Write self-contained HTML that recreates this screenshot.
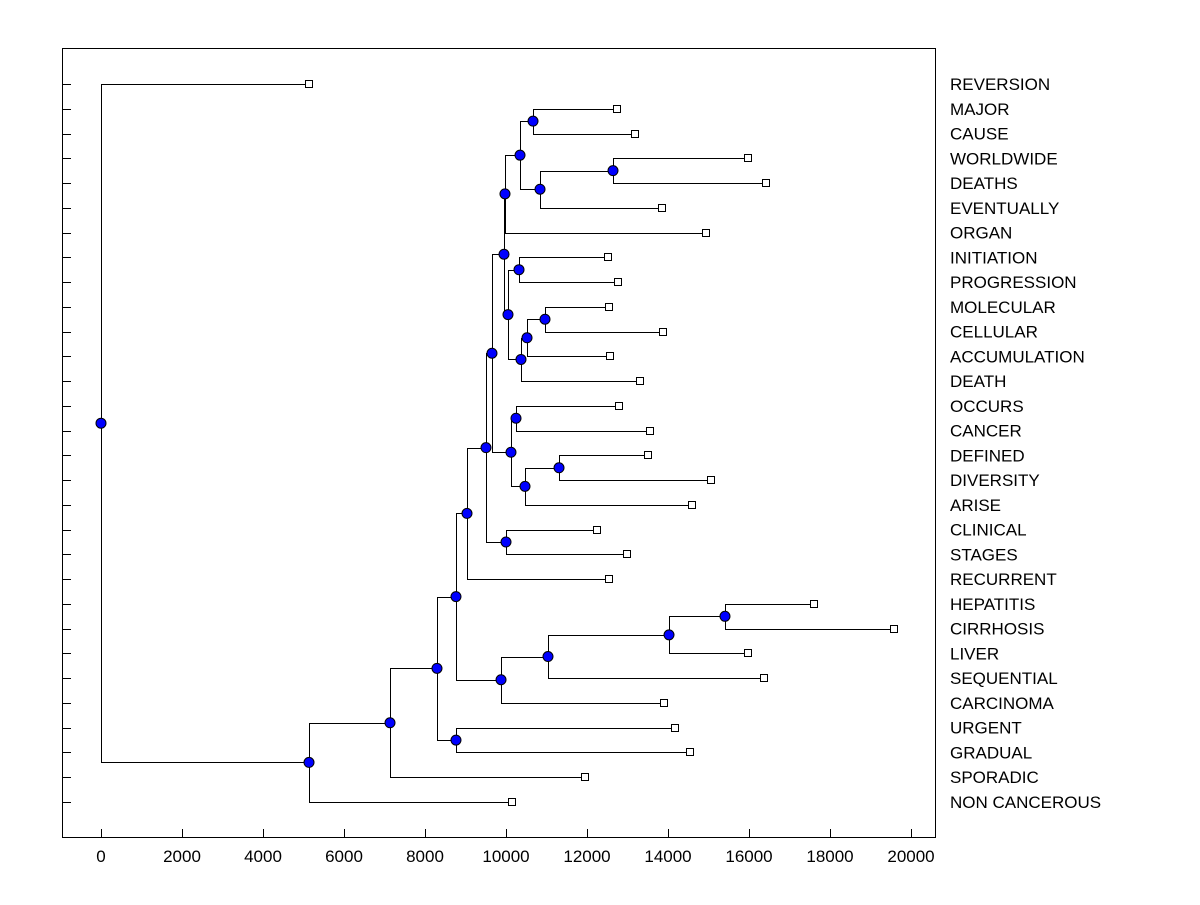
<!DOCTYPE html>
<html><head><meta charset="utf-8"><style>
body{margin:0;background:#fff}
svg text{font-family:"Liberation Sans",Arial,sans-serif;font-size:17px;fill:#000}
</style></head><body>
<svg id="chart" width="1200" height="900" xmlns="http://www.w3.org/2000/svg">
<rect x="62.5" y="48.5" width="873" height="789" fill="none" stroke="#000" stroke-width="1"/>
<g id="g"></g>
</svg>
<script>
const labels=["REVERSION","MAJOR","CAUSE","WORLDWIDE","DEATHS","EVENTUALLY","ORGAN","INITIATION","PROGRESSION","MOLECULAR","CELLULAR","ACCUMULATION","DEATH","OCCURS","CANCER","DEFINED","DIVERSITY","ARISE","CLINICAL","STAGES","RECURRENT","HEPATITIS","CIRRHOSIS","LIVER","SEQUENTIAL","CARCINOMA","URGENT","GRADUAL","SPORADIC","NON CANCEROUS"];
const leafValues=[5136,12741,13185,15975,16420,13852,14938,12519,12765,12543,13877,12568,13309,12790,13556,13506,15062,14593,12247,12988,12543,17605,19580,15975,16370,13901,14173,14543,11951,10148];
const mergeLeft=[1,3,31,30,33,7,9,36,37,35,34,13,15,42,41,40,18,45,47,21,49,50,51,48,26,53,55,56,0];
const mergeRight=[2,4,5,32,6,8,10,11,12,38,39,14,16,17,43,44,19,46,20,22,23,24,25,52,27,54,28,29,57];
const mergeHeights=[10667,12642,10840,10346,9975,10321,10963,10519,10370,10049,9951,10247,11309,10469,10123,9654,10000,9506,9037,15407,14025,11037,9877,8765,8765,8296,7136,5136,0];
const xTicks=[0,2000,4000,6000,8000,10000,12000,14000,16000,18000,20000];

const NS="http://www.w3.org/2000/svg";
const g=document.getElementById('g');
const xS=v=>101+v*0.0405;
const yS=i=>84+i*(802-84)/(labels.length-1);
const px5=v=>Math.round(v)+.5;
function mk(t,a){const e=document.createElementNS(NS,t);for(const k in a)e.setAttribute(k,a[k]);g.appendChild(e);return e;}
xTicks.forEach(t=>{
 const l=mk('line',{x1:px5(xS(t)),x2:px5(xS(t)),y1:837,y2:829,stroke:'#000'});
 
 
 const tx=mk('text',{x:xS(t),y:862,'text-anchor':'middle'});tx.textContent=t;
 
 
});
labels.forEach((n,i)=>{
 const l=mk('line',{x1:62,x2:71,y1:px5(yS(i)),y2:px5(yS(i)),stroke:'#000'});
 
 
 const tx=mk('text',{x:950,y:yS(i)+6});tx.textContent=n;
 
 
});
const nx=[],ny=[];
leafValues.forEach((v,i)=>{nx.push(xS(v));ny.push(yS(i));});
mergeHeights.forEach((h,k)=>{const a=mergeLeft[k],b=mergeRight[k];nx.push(xS(h));ny.push((ny[a]+ny[b])/2);});
mergeHeights.forEach((h,k)=>{
 const id=labels.length+k,px=px5(nx[id]);
 [mergeLeft[k],mergeRight[k]].forEach(c=>{
  const p=mk('polyline',{points:`${px},${px5(ny[id])} ${px},${px5(ny[c])} ${nx[c]},${px5(ny[c])}`,fill:'none',stroke:'#000','stroke-width':1});
  
  
 });
});
leafValues.forEach((v,i)=>{
 const r=mk('rect',{x:Math.round(nx[i])-3.5,y:Math.round(ny[i])-3.5,width:7,height:7,fill:'#fff',stroke:'#000'});
 
 
});
mergeHeights.forEach((h,k)=>{
 const id=labels.length+k;
 const c=mk('circle',{cx:nx[id],cy:ny[id],r:5,fill:'#0000ff',stroke:'#000'});
 
 
});
</script>
</body></html>
